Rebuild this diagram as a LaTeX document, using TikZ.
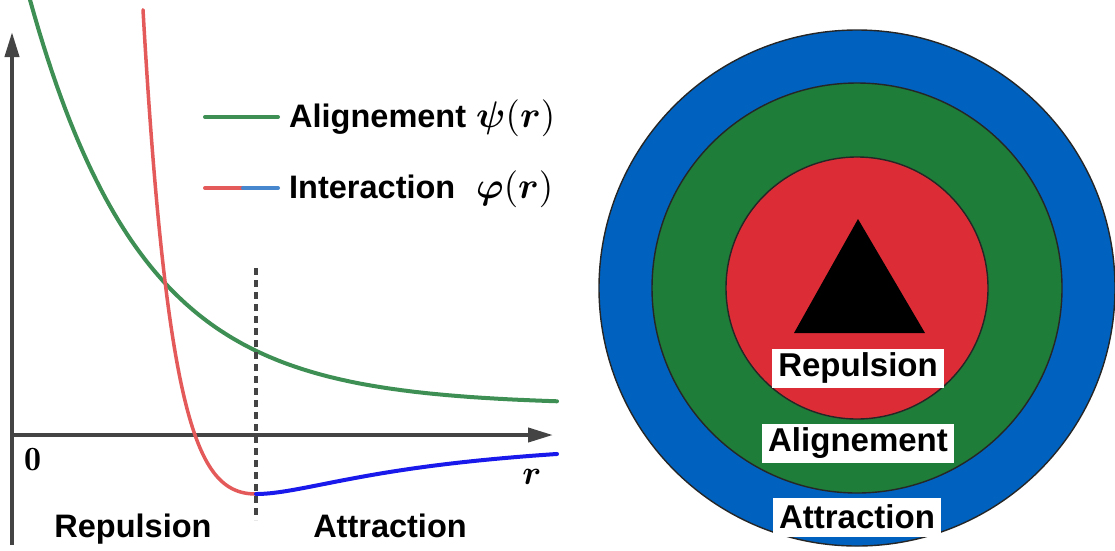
\documentclass[tikz,border=0pt]{standalone}
\usepackage{amsmath}
\usepackage{amssymb}
\usepackage{fontspec}
\newfontfamily\lab{Liberation Sans}
\usetikzlibrary{positioning, arrows.meta}

\definecolor{psigreen}{RGB}{61,143,84}
\definecolor{phired}{RGB}{228,90,90}
\definecolor{phiblue}{RGB}{25,25,235}
\definecolor{legblue}{RGB}{70,135,205}
\definecolor{axisgray}{RGB}{68,68,68}
\definecolor{ringblue}{RGB}{0,98,190}
\definecolor{ringgreen}{RGB}{30,125,56}
\definecolor{ringred}{RGB}{220,45,55}

\newcommand{\bigmath}[2]{\scalebox{#1}{$#2$}}

\begin{document}
\begin{tikzpicture}[
  x=1pt, y=-1pt,
  lab/.style={font=\lab\bfseries\fontsize{32.5}{36}\selectfont, inner sep=0pt},
  zonelab/.style={lab, font=\lab\bfseries\fontsize{33}{36}\selectfont, fill=white, inner xsep=6pt, inner ysep=3pt, minimum height=39pt},
  mathlab/.style={inner sep=0pt},
  ring/.style={draw=black!85, line width=1.4pt},
  ax/.style={axisgray, line width=4pt, -{Triangle[length=25pt, width=14pt]}},
  curve/.style={line width=4pt, line cap=round}
]
\useasboundingbox (0,0) rectangle (1115,550);
% axes
\coordinate (O) at (12,435);
\coordinate (ybot) at (12,545);
\coordinate (ytop) at (12,32);
\coordinate (xend) at (553,435);
\draw[ax] (ybot) -- (ytop);
\draw[ax] (O) -- (xend);
\node[mathlab] (zero) at (33,460) {\bigmath{3.4}{\mathbf{0}}};
\node[mathlab] (rlab) at (532,477) {\bigmath{3.4}{\boldsymbol{r}}};
% curves
\draw[curve, psigreen] plot[domain=30:557, samples=120] (\x, {405-529*exp(-0.0089*\x)});
\draw[curve, phired, line width=3.5pt] plot[domain=143:256, samples=120]
  (\x, {435-236*((500/(\x+305))^12-(500/(\x+305))^6)});
\draw[curve, phiblue] plot[domain=256:557, samples=100]
  (\x, {435-59*((244/(\x-12))^4.32-2*(244/(\x-12))^2.16)});
\coordinate (dtop) at (256,268);
\coordinate (dbot) at (256,520);
\draw[axisgray, line width=3.5pt, dash pattern=on 7pt off 5pt] (dtop) -- (dbot);
% legend
\coordinate (la1) at (205,117); \coordinate (la2) at (278,117);
\coordinate (li1) at (205,188); \coordinate (lim) at (243,188); \coordinate (li2) at (278,188);
\draw[curve, psigreen] (la1) -- (la2);
\draw[curve, phired] (li1) -- (lim);
\draw[curve, legblue] (lim) -- (li2);
\node[lab, anchor=base west] (lalign) at (289,127) {Alignement};
\node[mathlab, anchor=base west] (lpsi) at (476,127) {\bigmath{3.7}{\boldsymbol{\psi}(\boldsymbol{r})}};
\node[lab, anchor=base west] (linter) at (289,198) {Interaction};
\node[mathlab, anchor=base west] (lphi) at (476,198) {\bigmath{3.7}{\boldsymbol{\varphi}(\boldsymbol{r})}};
\node[lab, anchor=base] (lrep) at (133,537) {Repulsion};
\node[lab, anchor=base] (latt) at (390,537) {Attraction};
% zones
\coordinate (C) at (857,288);
\foreach \rad/\col in {258/ringblue, 205/ringgreen, 131/ringred}
  \draw[ring, fill=\col] (C) circle (\rad pt);
\fill (858,219) -- (925,333) -- (794,333) -- cycle;
\node[zonelab] (zrep) at (858,368) {Repulsion};
\node[zonelab] (zali) at (858,443) {Alignement};
\node[zonelab] (zatt) at (857,517) {Attraction};
\end{tikzpicture}
\end{document}
